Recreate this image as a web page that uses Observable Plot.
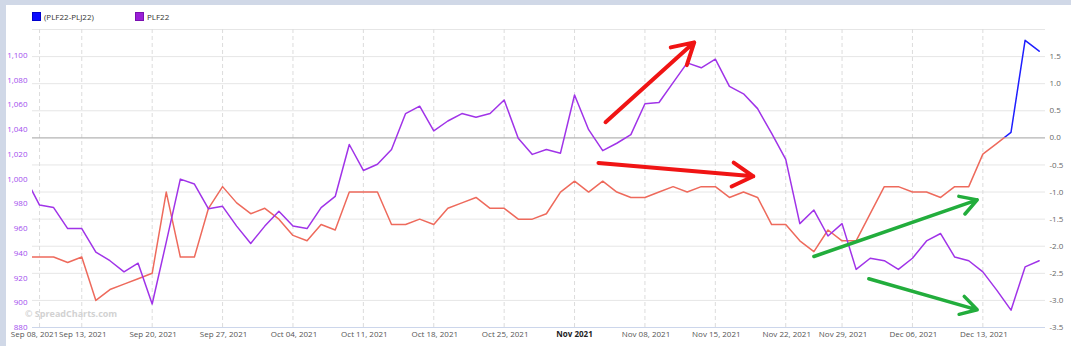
<!DOCTYPE html>
<html>
<head>
<meta charset="utf-8">
<script src="https://cdn.jsdelivr.net/npm/d3@7"></script>
<script src="https://cdn.jsdelivr.net/npm/@observablehq/plot@0.6"></script>
<style>
html,body{margin:0;padding:0;background:#fff;}
#wrap{position:relative;width:1071px;height:346px;overflow:hidden;font-family:"Open Sans",sans-serif;background:#fff;}
#frameTop{position:absolute;left:0;top:0;width:1071px;height:5px;background:#d0d8e7;}
#frameLeft{position:absolute;left:0;top:0;width:6px;height:346px;background:#d0d8e7;}
.leg{position:absolute;top:11px;font-size:8px;color:#333;display:flex;align-items:center;height:11px;}
.leg .sw{width:9px;height:9px;margin-right:3px;box-sizing:border-box;}
#wm{position:absolute;left:25px;top:307px;font-size:9px;font-weight:bold;color:#d2d2d2;}
#chart{position:absolute;left:0;top:0;}
</style>
</head>
<body>
<div id="wrap">
  <div id="chart"></div>
  <div id="frameTop"></div>
  <div id="frameLeft"></div>
  <div class="leg" style="left:32px"><div class="sw" style="background:#0b0bff;border:1px solid #0000cc"></div><span>(PLF22-PLJ22)</span></div>
  <div class="leg" style="left:135px"><div class="sw" style="background:#9a1fd8;border:1px solid #7a10b0"></div><span>PLF22</span></div>
  <div id="wm">© SpreadCharts.com</div>
</div>
<script>
// trading-day index (-1 = Sep 07, 2021 ... 71 = Dec 17, 2021)
const dayIndex = d3.range(-1, 72);

// PLF22 price (left axis)
const plf22 = [1001, 979, 977, 960, 960, 941, 934, 925, 932, 899, 949, 1000, 996, 976, 978, 962, 948, 962, 974, 962,
  960, 977, 986, 1028, 1007, 1012, 1024, 1053, 1059, 1039, 1047, 1053, 1050, 1053, 1064, 1033, 1020, 1024, 1021, 1068,
  1040, 1023, 1029, 1036, 1061, 1062, 1078, 1094, 1090, 1097, 1075, 1069, 1057, 1037, 1016, 964, 975, 954, 964, 927,
  936, 934, 927, 936, 950, 956, 937, 934, 925, 910, 894, 929, 934];

// (PLF22-PLJ22) spread (right axis)
const spread = [-2.2, -2.2, -2.2, -2.3, -2.2, -3.0, -2.8, -2.7, -2.6, -2.5, -1.0, -2.2, -2.2, -1.3, -0.9, -1.2, -1.4, -1.3, -1.5, -1.8,
  -1.9, -1.6, -1.7, -1.0, -1.0, -1.0, -1.6, -1.6, -1.5, -1.6, -1.3, -1.2, -1.1, -1.3, -1.3, -1.5, -1.5, -1.4, -1.0, -0.8,
  -1.0, -0.8, -1.0, -1.1, -1.1, -1.0, -0.9, -1.0, -0.9, -0.9, -1.1, -1.0, -1.1, -1.6, -1.6, -1.9, -2.1, -1.7, -1.9, -1.9,
  -1.4, -0.9, -0.9, -1.0, -1.0, -1.1, -0.9, -0.9, -0.3, -0.1, 0.1, 1.8, 1.6];

// x tick positions (trading-day index) and labels
const xTickIndex = [0, 3, 8, 13, 18, 23, 28, 33, 38, 43, 48, 53, 57, 62, 67];
const xTickLabels = ["Sep 08, 2021", "Sep 13, 2021", "Sep 20, 2021", "Sep 27, 2021", "Oct 04, 2021", "Oct 11, 2021",
  "Oct 18, 2021", "Oct 25, 2021", "Nov 2021", "Nov 08, 2021", "Nov 15, 2021", "Nov 22, 2021", "Nov 29, 2021",
  "Dec 06, 2021", "Dec 13, 2021"];
const xTickBold = ["Nov 2021"];

// axes
const leftDomain = [880, 1121];
const leftTicks = [880, 900, 920, 940, 960, 980, 1000, 1020, 1040, 1060, 1080, 1100];
const rightDomain = [-3.5, 2.0];
const rightTicks = [-3.5, -3.0, -2.5, -2.0, -1.5, -1.0, -0.5, 0.0, 0.5, 1.0, 1.5];
const gridTicks = [-3.0, -2.5, -2.0, -1.5, -1.0, -0.5, 0.5, 1.0, 1.5, 2.0];

// hand-drawn annotation arrows (trading-day index, price units)
const arrowsRed = [
  {x1: 40.2, y1: 1046, x2: 46.5, y2: 1110.6},
  {x1: 39.7, y1: 1013, x2: 50.7, y2: 1002.3}
];
const arrowsGreen = [
  {x1: 55.0, y1: 937.4, x2: 66.6, y2: 983.2},
  {x1: 58.9, y1: 919.4, x2: 66.6, y2: 894.3}
];

// map right-axis values onto the left-axis (shared y scale)
const k = (leftDomain[1] - leftDomain[0]) / (rightDomain[1] - rightDomain[0]);
const toLeft = s => leftDomain[0] + (s - rightDomain[0]) * k;
const fromLeft = p => rightDomain[0] + (p - leftDomain[0]) / k;

const priceData = dayIndex.map((i, j) => ({i, v: plf22[j]}));
const spreadData = dayIndex.map((i, j) => ({i, v: toLeft(spread[j])}));
const xTicks = xTickIndex.map((i, j) => ({i, label: xTickLabels[j], bold: xTickBold.includes(xTickLabels[j]), first: j === 0}));

const font = '"Open Sans", sans-serif';
const xText = {x: "i", text: "label", frameAnchor: "bottom", dy: 9, fill: "#555", stroke: "white", strokeWidth: 3, fontSize: 8};

const chart = Plot.plot({
  width: 1071,
  height: 346,
  marginLeft: 32,
  marginRight: 26,
  marginTop: 29,
  marginBottom: 19,
  style: {fontFamily: font, fontSize: "8px", background: "transparent", overflow: "visible"},
  x: {type: "linear", domain: [-0.5, 71.45], axis: null},
  y: {domain: leftDomain},
  marks: [
    Plot.gridY(gridTicks.map(toLeft), {stroke: "#e6e6e6", strokeOpacity: 1}),
    Plot.gridX(xTickIndex, {stroke: "#dcdcdc", strokeOpacity: 1, strokeDasharray: "4 3"}),
    Plot.ruleY([toLeft(0)], {stroke: "#b4b4b4", strokeWidth: 1.2}),
    Plot.ruleY([leftDomain[0]], {stroke: "#ccd6eb"}),
    Plot.axisY(leftTicks, {anchor: "left", tickSize: 0, tickPadding: 5, tickFormat: d3.format(","), color: "#a24dee", label: null, fontSize: 8}),
    Plot.axisY(rightTicks.map(toLeft), {anchor: "right", tickSize: 0, tickPadding: 4, tickFormat: d => fromLeft(d).toFixed(1), color: "#666", label: null, fontSize: 8}),
    Plot.text(xTicks.filter(d => d.first), {...xText, dx: -5}),
    Plot.text(xTicks.filter(d => !d.bold && !d.first), {...xText, dx: 1}),
    Plot.text(xTicks.filter(d => d.bold), {...xText, fill: "#222", fontWeight: "bold"}),
    Plot.line(spreadData, {x: "i", y: "v", stroke: "#ee6a5c", strokeWidth: 1.5, clip: true}),
    Plot.line(spreadData, {x: "i", y: "v", stroke: "#1f1fff", strokeWidth: 1.5, clip: true}),
    Plot.line(priceData, {x: "i", y: "v", stroke: "#a033e8", strokeWidth: 1.5, clip: true}),
    Plot.arrow(arrowsRed, {x1: "x1", y1: "y1", x2: "x2", y2: "y2", stroke: "#f01414", strokeWidth: 4, headLength: 9, headAngle: 60, strokeLinecap: "round"}),
    Plot.arrow(arrowsGreen, {x1: "x1", y1: "y1", x2: "x2", y2: "y2", stroke: "#22ad3c", strokeWidth: 3.5, headLength: 8, headAngle: 60, strokeLinecap: "round"})
  ]
});

// colour the spread line by zone (above / below zero) using the y scale
(function zone() {
  const ns = "http://www.w3.org/2000/svg";
  const y0 = chart.scale("y").apply(toLeft(0));
  const [xa, xb] = chart.scale("x").range;
  const [yb, ya] = chart.scale("y").range;
  const defs = document.createElementNS(ns, "defs");
  function clip(id, top, bottom) {
    const cp = document.createElementNS(ns, "clipPath");
    cp.setAttribute("id", id);
    const r = document.createElementNS(ns, "rect");
    r.setAttribute("x", Math.min(xa, xb));
    r.setAttribute("y", top);
    r.setAttribute("width", Math.abs(xb - xa));
    r.setAttribute("height", bottom - top);
    cp.appendChild(r);
    defs.appendChild(cp);
  }
  clip("zonePos", Math.min(ya, yb), y0);
  clip("zoneNeg", y0, Math.max(ya, yb));
  chart.insertBefore(defs, chart.firstChild);
  const lines = chart.querySelectorAll('g[aria-label="line"]');
  const wrapIn = (g, id) => {
    if (!g) return;
    const w = document.createElementNS(ns, "g");
    w.setAttribute("clip-path", `url(#${id})`);
    g.parentNode.insertBefore(w, g);
    w.appendChild(g);
  };
  wrapIn(lines[0], "zoneNeg");
  wrapIn(lines[1], "zonePos");
})();

document.getElementById("chart").appendChild(chart);
</script>
</body>
</html>
